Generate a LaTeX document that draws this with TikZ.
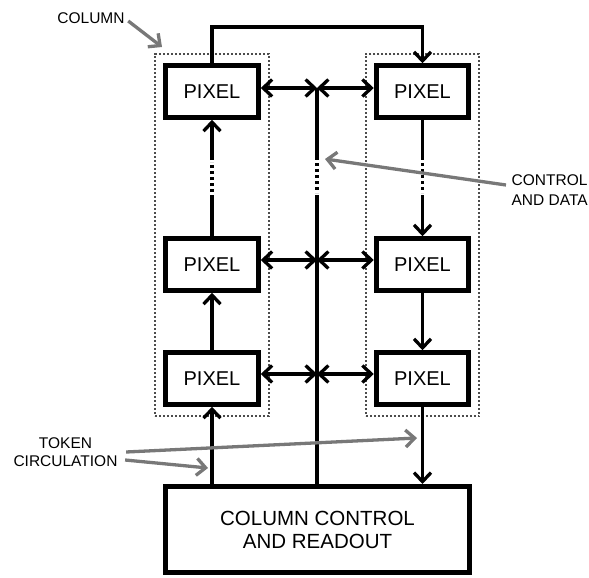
\documentclass[tikz,border=0pt]{standalone}
\usepackage{fontspec}
\setmainfont{Liberation Sans}
\usetikzlibrary{arrows.meta,fit}
\definecolor{notegray}{gray}{0.47}
\definecolor{framegray}{gray}{0.3}

\begin{document}
\begin{tikzpicture}[x=1pt,y=-1pt,line width=3.3pt,
  >={Straight Barb[length=9pt,width=17pt]},
  pix/.style={draw,line width=5pt,minimum width=92.5pt,minimum height=51.5pt,
    font=\fontsize{20}{24}\selectfont},
  colbox/.style={draw=framegray,line width=2pt,dash pattern=on 2pt off 2pt,
    inner xsep=8pt,inner ysep=9.5pt},
  brk/.style={dash pattern=on 3pt off 3pt,shorten <=3pt,shorten >=2pt},
  note/.style={font=\fontsize{15.5}{17.5}\selectfont,inner sep=1pt},
  notearr/.style={draw=notegray,->}]
  \useasboundingbox (0,0) rectangle (589,578);
  % pixels, two columns of three
  \foreach \c/\x in {1/212,2/422.5}
    \foreach \r/\y in {1/91.5,2/264.5,3/378.5}
      \node[pix] (p\c\r) at (\x,\y) {PIXEL};
  \node[colbox,fit=(p11)(p13)] (col1) {};
  \node[colbox,fit=(p21)(p23)] (col2) {};
  % end of column
  \node[draw,line width=5pt,minimum width=304pt,minimum height=86pt,
    align=center,font=\fontsize{20.5}{23}\selectfont] (ctl) at (317.5,529.5)
    {COLUMN CONTROL\\AND READOUT};
  % control and data bus
  \coordinate (b1) at (317,160);
  \coordinate (b2) at (317,195);
  \foreach \r/\y in {1/88,2/260,3/374}{
    \coordinate (j\r) at (317,\y);
    \draw[<->] (p1\r.east |- j\r) -- (j\r);
    \draw[<->] (j\r) -- (p2\r.west |- j\r);}
  \draw (j1) -- (b1);
  \draw[brk] (b1) -- (b2);
  \draw (b2) -- (j1 |- ctl.north);
  % token path : up the left column, down the right one
  \coordinate (loop) at (317,27);
  \coordinate (l1) at (212,160);
  \coordinate (l2) at (212,195);
  \coordinate (r1) at (422.5,160);
  \coordinate (r2) at (422.5,195);
  \draw[->] (p13.south |- ctl.north) -- (p13.south);
  \draw[->] (p13.north) -- (p12.south);
  \draw (p12.north) -- (l2);
  \draw[brk] (l2) -- (l1);
  \draw[->] (l1) -- (p11.south);
  \draw[->] (p11.north) |- (loop) -| (p21.north);
  \draw (p21.south) -- (r1);
  \draw[brk] (r1) -- (r2);
  \draw[->] (r2) -- (p22.north);
  \draw[->] (p22.south) -- (p23.north);
  \draw[->] (p23.south) -- (p23.south |- ctl.north);
  % labels
  \node[note] (collab) at (91,18) {COLUMN};
  \coordinate (colpt) at (162,47);
  \draw[notearr] ([xshift=1pt,yshift=-3pt]collab.east) -- (colpt);
  \node[note,align=left,anchor=west,font=\fontsize{15.5}{20}\selectfont]
    (ctrllab) at (509,190) {CONTROL\\AND DATA};
  \coordinate (ctrlpt) at (325,159);
  \draw[notearr] ([xshift=-3pt,yshift=5pt]ctrllab.west) -- (ctrlpt);
  \node[note,align=center] (toklab) at (65.5,452) {TOKEN\\CIRCULATION};
  \coordinate (tok1) at (417,438);
  \coordinate (tok2) at (208,468);
  \draw[notearr] ([xshift=6pt]toklab.east) -- (tok1);
  \draw[notearr] ([xshift=5pt,yshift=-8pt]toklab.east) -- (tok2);
\end{tikzpicture}
\end{document}
